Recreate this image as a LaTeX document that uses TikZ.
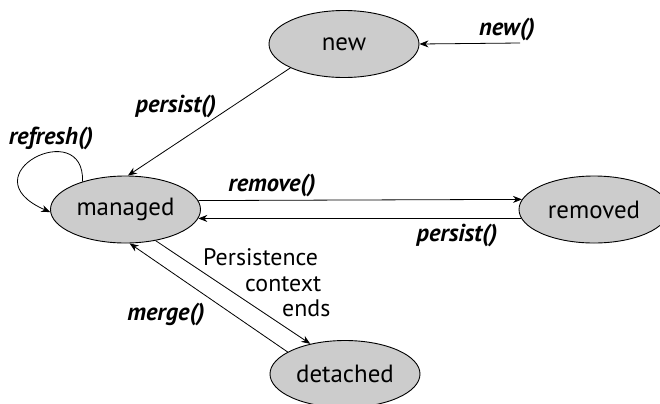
\documentclass[tikz,border=0pt]{standalone}
\usepackage{fontspec}
\setmainfont{PT Sans}
\usetikzlibrary{shapes.geometric,arrows.meta}

\begin{document}
\begin{tikzpicture}[x=1bp,y=-1bp,
    state/.style={ellipse,draw=black,fill=black!20,line width=0.9bp,minimum width=150bp,minimum height=67bp,inner sep=0pt,font=\fontsize{25}{28}\selectfont},
    trans/.style={-{Stealth[length=9bp,width=7bp]},line width=0.8bp},
    call/.style={font=\fontsize{24.5}{26}\selectfont\bfseries\itshape,inner sep=0pt},
    plain/.style={font=\fontsize{24}{25.5}\selectfont,inner sep=0pt}]
  \useasboundingbox (0,0) rectangle (660,403);
  % the four states
  \node[state] (new) at (344,44) {new};
  \node[state] (managed) at (125.5,209.5) {managed};
  \node[state] (removed) at (594,209.5) {removed};
  \node[state] (detached) at (345,374) {detached};
  \coordinate (start) at (520,43);
  % transitions
  \draw[trans] (start) -- (new.east);
  \draw[trans] (new.204) -- (managed.86);
  \draw[trans] (managed.147) .. controls (85,115) and (-35,175) .. (managed.182);
  \draw[trans] (managed.7.3) -- (removed.172.7);
  \draw[trans] (removed.187.3) -- (managed.-7.3);
  \draw[trans] (managed.-46) -- (detached.139);
  \draw[trans] (detached.159) -- (managed.-83);
  % labels
  \node[call] (newlbl) at (507,29) {new()};
  \node[call] (persistlbl) at (176,106) {persist()};
  \node[call] (refreshlbl) at (51,138) {refresh()};
  \node[call] (removelbl) at (272,185) {remove()};
  \node[call] (backlbl) at (457,235) {persist()};
  \node[call] (mergelbl) at (166,314) {merge()};
  \node[plain,align=left,anchor=west] (endslbl) at (203,283) {Persistence\\\hspace{42bp}context\\\hspace{79bp}ends};
\end{tikzpicture}
\end{document}
